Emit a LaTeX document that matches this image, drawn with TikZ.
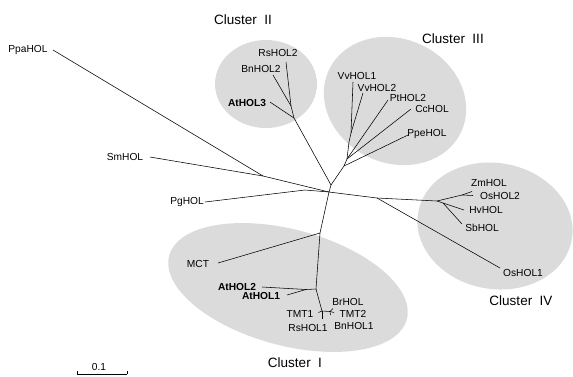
\documentclass[tikz,border=0pt]{standalone}
\usepackage{fontspec}
\setmainfont{Liberation Sans}
\begin{document}
\begin{tikzpicture}[x=1pt,y=-1pt,
  branch/.style={draw=black,line width=0.55pt},
  clusterbg/.style={fill=black!14},
  leaf/.style={font=\fontsize{10.2}{12}\selectfont,inner sep=0pt},
  boldleaf/.style={font=\fontsize{10.2}{12}\selectfont\bfseries,inner sep=0pt},
  clab/.style={font=\fontsize{13.5}{16}\selectfont,inner sep=0pt}]
\useasboundingbox (0,0) rectangle (573,376);
% cluster backgrounds
\fill[clusterbg] (266,84) ellipse [x radius=51pt, y radius=44pt];
\fill[clusterbg, rotate around={-25:(395,101)}] (395,101) ellipse [x radius=73pt, y radius=62pt];
\fill[clusterbg, rotate around={-10:(495,226)}] (495,226) ellipse [x radius=78pt, y radius=63pt];
\fill[clusterbg, rotate around={-15:(288,287.5)}] (288,287.5) ellipse [x radius=123pt, y radius=58pt];
% cluster labels
\node[clab] (c1) at (295,363) {Cluster~~I};
\node[clab] (c2) at (243,20) {Cluster~~II};
\node[clab] (c3) at (453,39) {Cluster~~III};
\node[clab] (c4) at (521,301) {Cluster~~IV};
% internal nodes
\coordinate (R) at (329,192);
\coordinate (T) at (331,185);
\coordinate (S) at (263,176);
\coordinate (Pg) at (305,190);
\coordinate (N2) at (294,118);
\coordinate (N2b) at (291,106);
\coordinate (B3) at (344,166);
\coordinate (B3a) at (347,159);
\coordinate (B3b) at (349,142);
\coordinate (Vv) at (351,133);
\coordinate (E4) at (377,198);
\coordinate (N4) at (437,201);
\coordinate (N4a) at (462,195);
\coordinate (N4b) at (443,203);
\coordinate (M1) at (320,233);
\coordinate (J1) at (316,289);
\coordinate (J1a) at (306,289.5);
\coordinate (J2) at (322,311);
\coordinate (J3) at (330,311.5);
% leaf ends
\coordinate (lPpa) at (53,50);
\coordinate (lSm) at (150,157);
\coordinate (lPg) at (205,202);
\coordinate (lAt3) at (270,102);
\coordinate (lBn2) at (273,75);
\coordinate (lRs2) at (286,62);
\coordinate (lVv1) at (353,82);
\coordinate (lVv2) at (363,93);
\coordinate (lPt2) at (388,100);
\coordinate (lCc) at (411,109);
\coordinate (lPpe) at (408,135);
\coordinate (lZm) at (472,191.5);
\coordinate (lOs2) at (473,195.5);
\coordinate (lHv) at (464,210);
\coordinate (lSb) at (462,224);
\coordinate (lOs1) at (500,268);
\coordinate (lMCT) at (218,263);
\coordinate (lAt2) at (262,287);
\coordinate (lAt1) at (287,295);
\coordinate (lTMT1) at (318.5,312.5);
\coordinate (lRs1) at (322,319);
\coordinate (lBr) at (333,308.5);
\coordinate (lTMT2) at (334,312.5);
\coordinate (lBn1) at (330.5,315);
% leaf labels
\node[leaf] (PpaHOL) at (28,50) {PpaHOL};
\node[leaf] (SmHOL) at (125,157) {SmHOL};
\node[leaf] (PgHOL) at (187,202) {PgHOL};
\node[boldleaf] (AtHOL3) at (247,103) {AtHOL3};
\node[leaf] (BnHOL2) at (261,69) {BnHOL2};
\node[leaf] (RsHOL2) at (278,53) {RsHOL2};
\node[leaf] (VvHOL1) at (357,76) {VvHOL1};
\node[leaf] (VvHOL2) at (377,88) {VvHOL2};
\node[leaf] (PtHOL2) at (408,98) {PtHOL2};
\node[leaf] (CcHOL) at (432,109) {CcHOL};
\node[leaf] (PpeHOL) at (427,134) {PpeHOL};
\node[leaf] (ZmHOL) at (489,183) {ZmHOL};
\node[leaf] (OsHOL2) at (500,196) {OsHOL2};
\node[leaf] (HvHOL) at (486,210) {HvHOL};
\node[leaf] (SbHOL) at (482,228) {SbHOL};
\node[leaf] (OsHOL1) at (523,273) {OsHOL1};
\node[leaf] (MCT) at (198,264) {MCT};
\node[boldleaf] (AtHOL2) at (237,287) {AtHOL2};
\node[boldleaf] (AtHOL1) at (261,296) {AtHOL1};
\node[leaf] (TMT1) at (300,314) {TMT1};
\node[leaf] (RsHOL1) at (308,328) {RsHOL1};
\node[leaf] (BrHOL) at (348,302) {BrHOL};
\node[leaf] (TMT2) at (353,314) {TMT2};
\node[leaf] (BnHOL1) at (354,326) {BnHOL1};
% branches
\draw[branch] (lPpa) -- (S) -- (R);
\draw[branch] (lSm) -- (S);
\draw[branch] (lPg) -- (Pg) -- (R);
\draw[branch] (R) -- (T);
\draw[branch] (T) -- (N2) -- (lAt3);
\draw[branch] (N2) -- (N2b) -- (lBn2);
\draw[branch] (N2b) -- (lRs2);
\draw[branch] (T) -- (B3) -- (lPpe);
\draw[branch] (B3) -- (B3a) -- (lPt2);
\draw[branch] (B3a) -- (lCc);
\draw[branch] (B3a) -- (B3b) -- (Vv) -- (lVv1);
\draw[branch] (Vv) -- (lVv2);
\draw[branch] (R) -- (E4) -- (N4) -- (N4a) -- (lZm);
\draw[branch] (N4a) -- (lOs2);
\draw[branch] (E4) -- (lOs1);
\draw[branch] (N4) -- (N4b) -- (lHv);
\draw[branch] (N4b) -- (lSb);
\draw[branch] (R) -- (M1) -- (lMCT);
\draw[branch] (M1) -- (J1) -- (J1a) -- (lAt2);
\draw[branch] (J1a) -- (lAt1);
\draw[branch] (J1) -- (J2) -- (lTMT1);
\draw[branch] (J2) -- (lRs1);
\draw[branch] (J2) -- (J3) -- (lBr);
\draw[branch] (J3) -- (lTMT2);
\draw[branch] (J3) -- (lBn1);
% scale bar
\coordinate (sbL) at (77,374);
\coordinate (sbR) at (127,374);
\node[leaf] (sbt) at (99,367) {0.1};
\draw[branch] (sbL) -- (sbR);
\draw[branch] (sbL) -- ++(0,-3.5);
\draw[branch] (sbR) -- ++(0,-3.5);
\end{tikzpicture}
\end{document}
